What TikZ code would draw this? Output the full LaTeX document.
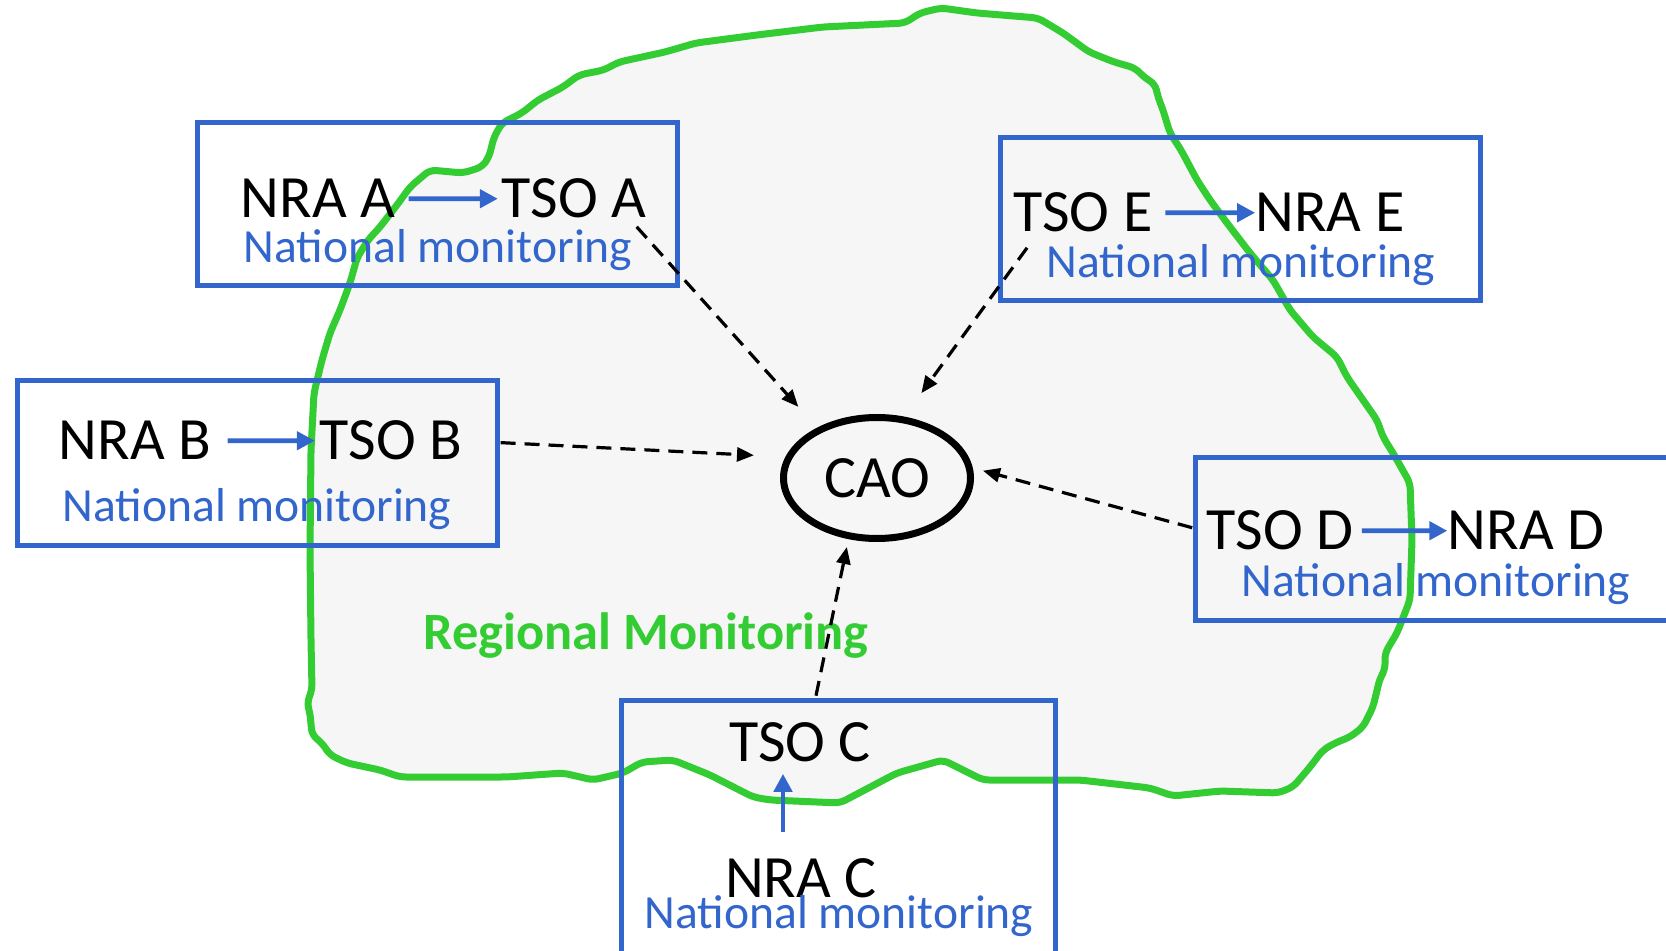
\documentclass[tikz,border=0pt]{standalone}
\usepackage{fontspec}
\setmainfont{Carlito}
\usetikzlibrary{arrows.meta,shapes.geometric}
\definecolor{bbox}{HTML}{3366CC}
\definecolor{gline}{HTML}{33CC33}
\definecolor{blobfill}{HTML}{F6F6F6}
\begin{document}
\begin{tikzpicture}[x=0.5pt,y=-0.5pt,
  bluebox/.style={draw=bbox, line width=2.6pt, rectangle, inner sep=0pt},
  big/.style={inner sep=0pt, anchor=base, font=\fontsize{30}{36}\selectfont},
  nat/.style={inner sep=0pt, anchor=base, text=bbox, font=\fontsize{23.8}{28}\selectfont},
  barrow/.style={draw=bbox, line width=2.3pt, -{Triangle[length=9pt,width=9pt]}},
  dasharrow/.style={draw=black, line width=1.6pt, dash pattern=on 7.5pt off 4.5pt, -{Triangle[length=8.5pt,width=7pt]}},
]
\useasboundingbox (0,0) rectangle (1666,951);
\clip (0,0) rectangle (1666,951);
% regional area
\path[fill=blobfill, draw=gline, line width=3.5pt, rounded corners=3pt, line join=round]
 (307,703) -- (312,690) -- (311,640) -- (310,550) -- (311,450) -- (314,393) -- (322,360) -- (330,333)
 -- (340,310) -- (350,283) -- (357,258) -- (368,240) -- (380,227) -- (397,205) -- (410,187) -- (430,170)
 -- (463,173) -- (482,167) -- (489,157) -- (494,137) -- (502,123) -- (522,113) -- (538,100) -- (563,87)
 -- (579,75) -- (604,70) -- (619,62) -- (665,52) -- (696,43) -- (757,35) -- (823,27) -- (905,23)
 -- (920,13) -- (941,8) -- (977,13) -- (1038,18) -- (1063,33) -- (1089,52) -- (1114,62) -- (1135,68)
 -- (1145,78) -- (1155,84) -- (1158,97) -- (1163,110) -- (1170,133) -- (1181,150) -- (1197,180)
 -- (1210,200) -- (1227,223) -- (1250,253) -- (1273,280) -- (1290,310) -- (1313,337) -- (1337,357)
 -- (1347,377) -- (1363,400) -- (1377,420) -- (1383,437) -- (1393,453) -- (1410,483) -- (1412,540)
 -- (1410,600) -- (1397,633) -- (1385,653) -- (1385,670) -- (1380,678) -- (1373,707) -- (1363,727)
 -- (1350,737) -- (1335,743) -- (1323,750) -- (1310,767) -- (1293,787) -- (1278,793) -- (1220,791)
 -- (1173,796) -- (1150,788) -- (1080,780) -- (983,780) -- (943,760) -- (897,773) -- (840,803)
 -- (770,800) -- (753,797) -- (710,775) -- (673,760) -- (642,762) -- (623,773) -- (593,780)
 -- (563,773) -- (507,777) -- (400,777) -- (380,770) -- (347,763) -- (330,755) -- (322,743)
 -- (312,735) -- (310,713) -- cycle;
% boxes
\node[bluebox, minimum width=240pt, minimum height=81.5pt] (boxA) at (437.5,204) {};
\node[bluebox, minimum width=240pt, minimum height=82.5pt] (boxB) at (257.5,463) {};
\node[bluebox, minimum width=240pt, minimum height=81.5pt] (boxE) at (1240.5,219) {};
\node[bluebox, minimum width=240pt, minimum height=81.5pt] (boxD) at (1435.5,539) {};
\node[bluebox, minimum width=217pt, minimum height=140pt] (boxC) at (838.5,840.5) {};
% texts
\node[big] (nraA) at (318,218) {NRA A};
\node[big] (tsoA) at (574,218) {TSO A};
\node[nat] (natA) at (438,263) {National monitoring};
\node[big] (nraB) at (135,460) {NRA B};
\node[big] (tsoB) at (391,460) {TSO B};
\node[nat] (natB) at (257,522) {National monitoring};
\node[big] (tsoE) at (1083,232) {TSO E};
\node[big] (nraE) at (1330,232) {NRA E};
\node[nat] (natE) at (1241,278) {National monitoring};
\node[big] (tsoD) at (1280,550) {TSO D};
\node[big] (nraD) at (1526,550) {NRA D};
\node[nat] (natD) at (1436,597) {National monitoring};
\node[big] (tsoC) at (800,762) {TSO C};
\node[big] (nraC) at (801,897) {NRA C};
\node[nat] (natC) at (839,928) {National monitoring};
\node[inner sep=0pt, anchor=base, text=gline, font=\fontsize{26.2}{31}\selectfont\bfseries] (reg) at (646,650) {Regional Monitoring};
\node[draw, ellipse, line width=3.5pt, minimum width=93.5pt, minimum height=60.5pt, inner sep=0pt,
  font=\fontsize{30}{36}\selectfont] (cao) at (877,478) {CAO};
% national arrows
\draw[barrow, shorten <=6.5pt, shorten >=1.75pt] (nraA.east) -- (tsoA.west);
\draw[barrow, shorten <=8pt, shorten >=2.25pt] (nraB.east) -- (tsoB.west);
\draw[barrow, shorten <=6.25pt] (tsoE.east) -- (nraE.west);
\draw[barrow, shorten <=4pt] (tsoD.east) -- (nraD.west);
\draw[barrow, shorten <=13pt, shorten >=5.5pt] ([xshift=-9pt]nraC.north) -- ([xshift=-9pt]nraC.north |- tsoC.south);
% regional arrows
\draw[dasharrow, shorten >=14pt] ([xshift=-5pt,yshift=-4pt]tsoA.south east) -- (cao.140);
\draw[dasharrow, shorten <=19pt, shorten >=15.75pt] (tsoB.east) -- (cao.167);
\draw[dasharrow, shorten >=14.5pt] ([xshift=7pt,yshift=-7.5pt]tsoE.south west) -- (cao.66);
\draw[dasharrow, shorten >=5.25pt] ([xshift=-7pt,yshift=1.5pt]tsoD.west) -- (cao.6);
\draw[dasharrow, shorten >=4pt] ([xshift=8pt,yshift=13.5pt]tsoC.north) -- (cao.245);
\end{tikzpicture}
\end{document}
